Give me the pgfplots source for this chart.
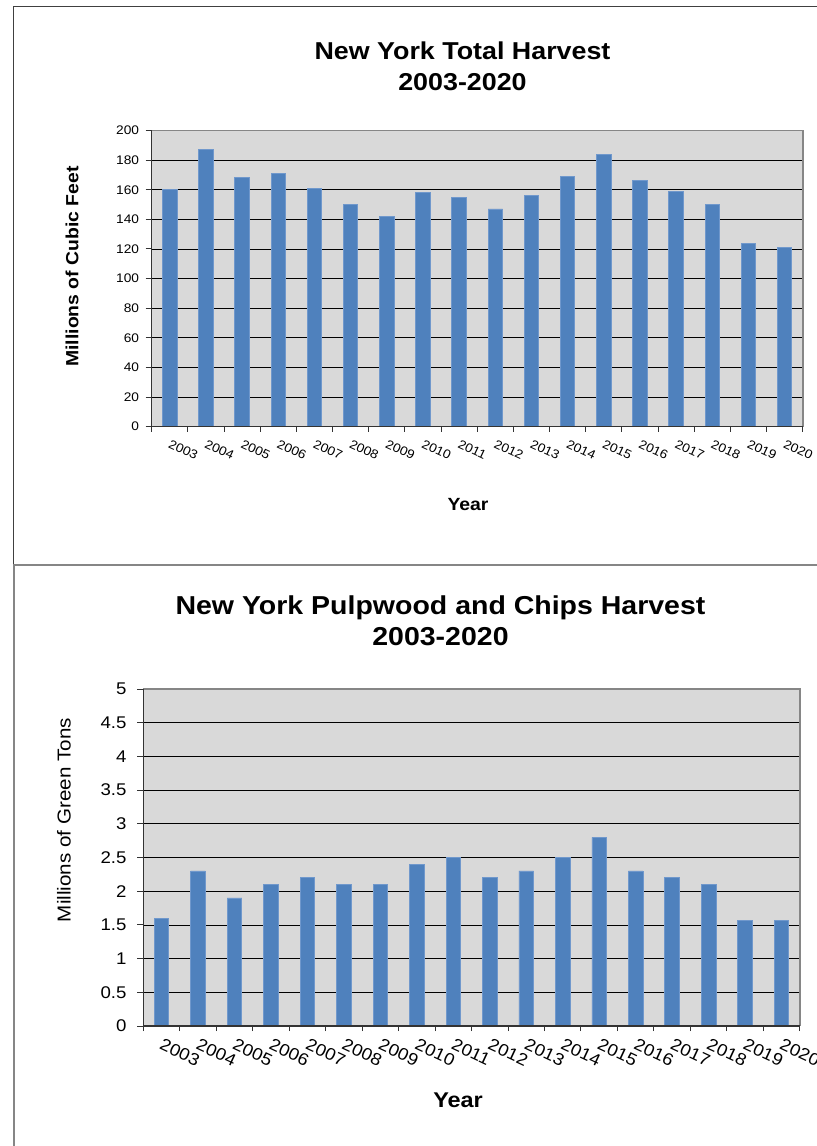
\documentclass[border=0pt]{standalone}
\usepackage{fontspec}
\setmainfont{Liberation Sans}[FakeStretch=1.1]
\usepackage{pgfplots}
\pgfplotsset{compat=1.18}

\definecolor{barblue}{RGB}{79,129,189}
\definecolor{baredge}{RGB}{112,152,204}
\definecolor{plotbg}{RGB}{217,217,217}
\definecolor{framegray}{RGB}{134,134,134}

\pgfplotsset{
  xlsbar/.style={
    scale only axis,
    ybar, bar width=0.4,
    xmin=-0.5, xmax=17.5, ymin=0,
    xtick={0,...,17},
    xticklabels={2003,2004,2005,2006,2007,2008,2009,2010,2011,2012,2013,2014,2015,2016,2017,2018,2019,2020},
    minor xtick={-0.5,0.5,...,17.5},
    xtick pos=bottom, ytick pos=left,
    tick align=outside,
    major tick length=6bp, minor tick length=5bp,
    major x tick style={draw=none},
    minor x tick style={black!80, line width=1bp},
    ytick style={black!80, line width=1bp},
    ymajorgrids,
    grid style={black, line width=0.8bp},
    axis background/.style={fill=plotbg},
    axis line style={draw=none},
    /pgf/number format/assume math mode=true,
    yticklabel style={anchor=east, inner sep=0pt},
    after end axis/.code={
      \draw[framegray, line width=1.8bp] (rel axis cs:0,1) -- (rel axis cs:1,1) -- (rel axis cs:1,0);
      \draw[black!80, line width=1.2bp] (rel axis cs:0,1) -- (rel axis cs:0,0) -- (rel axis cs:1,0);
    },
  }
}

\begin{document}
\begin{tikzpicture}
  \path[use as bounding box, fill=white] (0,0) rectangle (817bp,-1146bp);

  % frames of the two chart boxes
  \draw[black!75, line width=1.2bp] (13.5bp,-564bp) -- (13.5bp,-6.5bp) -- (820bp,-6.5bp);
  \draw[framegray, line width=1.2bp] (14bp,-1150bp) -- (14bp,-564bp);
  \draw[framegray, line width=2bp] (13bp,-564.5bp) -- (820bp,-564.5bp);

  \begin{axis}[
      xlsbar,
      at={(151.7bp,-426.7bp)}, anchor=south west,
      width=651bp, height=296.2bp,
      ymax=200, ytick={0,20,...,200},
      tick label style={font=\fontsize{12.5}{14}\selectfont},
      yticklabel style={xshift=-6.4bp},
      xticklabel style={xshift=1.5bp, yshift=-6.3bp, rotate=-25, anchor=north west, inner sep=0pt},
      title={New York Total Harvest\\2003-2020},
      title style={at={(axis description cs:0.4774,1.2796)}, anchor=north,
        align=center, inner sep=0pt, font=\bfseries\fontsize{24.5}{31}\selectfont},
      xlabel={Year},
      xlabel style={at={(axis description cs:0.4859,-0.2627)}, anchor=center,
        inner sep=0pt, font=\bfseries\fontsize{17.7}{20}\selectfont},
      ylabel={Millions of Cubic Feet},
      ylabel style={at={(axis description cs:-0.1224,0.541)}, anchor=center,
        inner sep=0pt, font=\bfseries\fontsize{17.7}{20}\selectfont},
    ]
    \addplot[fill=barblue, draw=baredge, line width=0.8bp] coordinates {
      (0,160) (1,187) (2,168) (3,171) (4,161) (5,150) (6,142) (7,158) (8,155)
      (9,147) (10,156) (11,169) (12,184) (13,166) (14,159) (15,150) (16,124) (17,121)
    };
  \end{axis}

  \begin{axis}[
      xlsbar,
      at={(143.3bp,-1026bp)}, anchor=south west,
      width=656.5bp, height=337bp,
      ymax=5, ytick={0,0.5,...,5},
      tick label style={font=\fontsize{17}{20}\selectfont},
      yticklabel style={xshift=-10.6bp},
      xticklabel style={xshift=2bp, yshift=-6bp, rotate=-25, anchor=north west, inner sep=0pt},
      title={New York Pulpwood and Chips Harvest\\2003-2020},
      title style={at={(axis description cs:0.4527,1.259)}, anchor=north,
        align=center, inner sep=0pt, font=\bfseries\fontsize{26}{30.7}\selectfont},
      xlabel={Year},
      xlabel style={at={(axis description cs:0.4794,-0.2217)}, anchor=center,
        inner sep=0pt, font=\bfseries\fontsize{21.4}{24}\selectfont},
      ylabel={Millions of Green Tons},
      ylabel style={at={(axis description cs:-0.1208,0.611)}, anchor=center,
        inner sep=0pt, font=\fontsize{18.8}{22}\selectfont},
    ]
    \addplot[fill=barblue, draw=baredge, line width=0.8bp] coordinates {
      (0,1.6) (1,2.3) (2,1.9) (3,2.1) (4,2.2) (5,2.1) (6,2.1) (7,2.4) (8,2.5)
      (9,2.2) (10,2.3) (11,2.5) (12,2.8) (13,2.3) (14,2.2) (15,2.1) (16,1.56) (17,1.57)
    };
  \end{axis}
\end{tikzpicture}
\end{document}
